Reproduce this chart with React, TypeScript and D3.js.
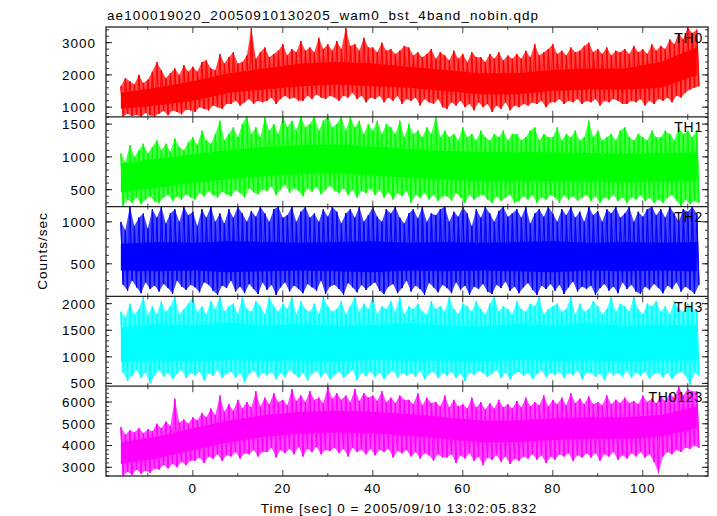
import React from 'react';
import * as d3 from 'd3';

// sample times of the spike envelopes (sec), one per second
const spikeTimes = [
  -16, -15, -14, -13, -12, -11, -10, -9,
  -8, -7, -6, -5, -4, -3, -2, -1,
  0, 1, 2, 3, 4, 5, 6, 7,
  8, 9, 10, 11, 12, 13, 14, 15,
  16, 17, 18, 19, 20, 21, 22, 23,
  24, 25, 26, 27, 28, 29, 30, 31,
  32, 33, 34, 35, 36, 37, 38, 39,
  40, 41, 42, 43, 44, 45, 46, 47,
  48, 49, 50, 51, 52, 53, 54, 55,
  56, 57, 58, 59, 60, 61, 62, 63,
  64, 65, 66, 67, 68, 69, 70, 71,
  72, 73, 74, 75, 76, 77, 78, 79,
  80, 81, 82, 83, 84, 85, 86, 87,
  88, 89, 90, 91, 92, 93, 94, 95,
  96, 97, 98, 99, 100, 101, 102, 103,
  104, 105, 106, 107, 108, 109, 110, 111,
  112,
];
// sample times of the dense core band (sec)
const coreTimes = [-16, -8, 0, 8, 16, 24, 32, 40, 48, 56, 64, 72, 80, 88, 96, 104, 112];

// TH0
const th0CoreTop = [1450, 1600, 1800, 2050, 2200, 2350, 2400, 2350, 2250, 2150, 2050, 2050, 2150, 2200, 2200, 2400, 2850];
const th0CoreBot = [950, 1050, 1200, 1450, 1550, 1650, 1700, 1650, 1600, 1500, 1400, 1400, 1500, 1550, 1550, 1600, 2000];
const th0Top = [
  1650, 1900, 1800, 1700, 2000, 1750, 1850, 2100,
  2400, 2150, 1900, 2050, 2200, 2000, 2300, 2100,
  2250, 2100, 2400, 2450, 2200, 2150, 2650, 2350,
  2550, 2700, 2350, 2400, 2600, 3450, 2500, 2700,
  2850, 2550, 2650, 2750, 2950, 2600, 2800, 2700,
  3050, 2750, 2850, 2700, 3150, 2800, 2950, 2750,
  3050, 2800, 3450, 2900, 2950, 2750, 3150, 2850,
  2850, 2700, 3000, 2750, 2800, 2650, 2750, 2900,
  2850, 2600, 2700, 2550, 2650, 2800, 2500, 2700,
  2600, 2450, 2750, 2500, 2650, 2400, 2700, 2550,
  2550, 2400, 2650, 2500, 2700, 2450, 2600, 2500,
  2650, 2500, 2750, 2550, 2950, 2600, 2700, 2800,
  2950, 2650, 2750, 2600, 2850, 2700, 2750, 2900,
  3000, 2700, 2800, 2650, 2850, 2600, 2750, 2700,
  2800, 2650, 2900, 2700, 2800, 2650, 2950, 2750,
  2900, 2800, 3100, 2950, 3300, 3100, 3480, 3300,
  3400,
];
const th0Bot = [
  700, 800, 720, 760, 700, 820, 750, 700,
  800, 880, 750, 900, 850, 780, 920, 900,
  850, 1000, 950, 900, 1050, 1000, 950, 1100,
  1100, 1200, 1050, 1150, 1250, 1100, 1200, 1150,
  1200, 1300, 1100, 1250, 1350, 1250, 1300, 1200,
  1200, 1350, 1250, 1400, 1300, 1250, 1350, 1300,
  1200, 1350, 1300, 1450, 1250, 1350, 1150, 1300,
  1250, 1350, 1150, 1300, 1200, 1350, 1100, 1250,
  1200, 1300, 1050, 1250, 1150, 1100, 1250, 1000,
  950, 1150, 1050, 1200, 1000, 1100, 900, 1150,
  1000, 1100, 850, 1050, 950, 1150, 900, 1050,
  1000, 1100, 1050, 1150, 1100, 1200, 1000, 1150,
  1150, 1250, 1100, 1200, 1150, 1250, 1100, 1200,
  1150, 1250, 1050, 1200, 1150, 1250, 1200, 1100,
  1100, 1200, 1150, 1250, 1050, 1200, 1100, 1250,
  1200, 1300, 1150, 1350, 1300, 1450, 1550, 1600,
  1650,
];

// TH1
const th1CoreTop = [900, 970, 1040, 1100, 1150, 1180, 1190, 1160, 1120, 1090, 1070, 1070, 1070, 1060, 1050, 1060, 1070];
const th1CoreBot = [460, 530, 600, 660, 710, 740, 750, 720, 680, 650, 630, 630, 630, 620, 610, 620, 630];
const th1Top = [
  1050, 920, 1180, 1000, 1100, 1200, 1050, 1150,
  1250, 1100, 1200, 1080, 1280, 1150, 1100, 1220,
  1300, 1180, 1400, 1250, 1200, 1350, 1550, 1250,
  1350, 1450, 1300, 1500, 1620, 1350, 1450, 1300,
  1600, 1400, 1500, 1350, 1620, 1450, 1550, 1400,
  1620, 1450, 1500, 1620, 1400, 1550, 1620, 1450,
  1500, 1620, 1400, 1600, 1450, 1550, 1350, 1500,
  1400, 1550, 1350, 1500, 1450, 1350, 1550, 1300,
  1500, 1350, 1400, 1300, 1450, 1350, 1620, 1300,
  1400, 1300, 1350, 1250, 1450, 1300, 1350, 1250,
  1400, 1300, 1250, 1350, 1300, 1400, 1250, 1350,
  1350, 1250, 1300, 1400, 1450, 1250, 1350, 1300,
  1300, 1450, 1250, 1350, 1300, 1400, 1250, 1300,
  1550, 1300, 1400, 1250, 1300, 1350, 1250, 1400,
  1450, 1300, 1250, 1350, 1300, 1250, 1400, 1300,
  1300, 1400, 1350, 1250, 1450, 1350, 1400, 1300,
  1400,
];
const th1Bot = [
  250, 350, 300, 380, 280, 350, 400, 320,
  300, 380, 420, 330, 400, 350, 430, 380,
  350, 450, 400, 480, 420, 380, 470, 430,
  400, 500, 450, 380, 520, 460, 430, 500,
  480, 550, 420, 500, 580, 450, 520, 480,
  400, 520, 470, 550, 430, 500, 560, 480,
  450, 520, 420, 500, 380, 480, 450, 520,
  420, 500, 380, 460, 350, 450, 400, 480,
  300, 420, 380, 450, 350, 420, 330, 400,
  400, 330, 450, 380, 300, 420, 350, 400,
  420, 350, 300, 400, 330, 380, 420, 300,
  330, 400, 350, 420, 300, 380, 350, 420,
  380, 300, 420, 350, 400, 330, 380, 420,
  330, 400, 300, 380, 350, 420, 330, 380,
  300, 380, 350, 420, 330, 380, 300, 350,
  300, 380, 420, 330, 250, 350, 280, 330,
  300,
];

// TH2
const th2CoreTop = [740, 760, 750, 770, 760, 750, 760, 770, 750, 760, 750, 760, 770, 750, 760, 750, 760];
const th2CoreBot = [420, 410, 420, 400, 410, 420, 410, 400, 420, 410, 420, 410, 400, 420, 410, 420, 410];
const th2Top = [
  1000, 900, 1180, 950, 1050, 1100, 920, 1150,
  1050, 1180, 980, 1100, 1150, 1000, 1180, 1080,
  1120, 950, 1150, 1050, 1180, 1000, 1100, 980,
  1150, 1050, 1180, 1100, 1000, 1130, 1060, 1180,
  1100, 1000, 1150, 1180, 1050, 1080, 1180, 1000,
  1120, 1180, 1050, 1100, 1000, 1150, 1060, 1180,
  1120, 980, 1100, 1150, 1050, 1180, 1000, 1080,
  1180, 1060, 1000, 1150, 1100, 1180, 1050, 980,
  1100, 1150, 1040, 1180, 1000, 1100, 1080, 1150,
  1180, 1000, 1120, 1060, 1180, 1100, 950, 1150,
  1050, 1180, 1100, 1000, 1130, 1180, 1060, 1100,
  1150, 1050, 1180, 980, 1100, 1150, 1060, 1180,
  1100, 1000, 1150, 1080, 1180, 1050, 1120, 1000,
  1180, 1080, 1130, 1000, 1150, 1100, 1180, 1050,
  1100, 1180, 1000, 1120, 1060, 1150, 1180, 1080,
  1150, 1050, 1180, 1100, 1000, 1150, 1120, 1180,
  1100,
];
const th2Bot = [
  250, 180, 300, 220, 150, 280, 200, 240,
  170, 260, 210, 140, 300, 230, 190, 250,
  220, 160, 280, 250, 180, 130, 240, 210,
  300, 170, 230, 150, 260, 200, 140, 280,
  190, 250, 130, 220, 280, 170, 240, 200,
  150, 260, 220, 180, 300, 140, 230, 250,
  200, 130, 270, 220, 160, 250, 190, 240,
  280, 180, 140, 230, 260, 150, 210, 300,
  170, 240, 200, 130, 270, 220, 160, 250,
  210, 150, 280, 190, 240, 130, 230, 200,
  260, 170, 140, 250, 210, 290, 180, 230,
  150, 220, 270, 190, 130, 240, 200, 260,
  180, 250, 140, 220, 290, 170, 230, 200,
  240, 130, 210, 260, 180, 230, 150, 280,
  200, 250, 170, 140, 230, 190, 260, 210,
  150, 240, 200, 280, 170, 230, 190, 140,
  250,
];

// TH3
const th3CoreTop = [1550, 1620, 1590, 1640, 1590, 1620, 1580, 1600, 1640, 1590, 1570, 1620, 1590, 1630, 1580, 1600, 1590];
const th3CoreBot = [900, 930, 910, 940, 920, 930, 910, 950, 920, 930, 910, 940, 920, 930, 910, 930, 920];
const th3Top = [
  1850, 1750, 2000, 1800, 1900, 2137, 1780, 1950,
  1800, 2050, 1850, 1950, 2137, 1800, 1900, 2000,
  2137, 1850, 1950, 1800, 2050, 1900, 2137, 1850,
  1950, 2000, 1800, 2137, 1900, 1850, 2050, 1950,
  1800, 2137, 1950, 1850, 2000, 1900, 2137, 1800,
  2050, 1900, 1850, 2000, 1800, 2137, 1950, 1850,
  1900, 2050, 1800, 1950, 2137, 1850, 2000, 1900,
  2137, 1800, 1950, 1900, 2050, 1850, 2137, 1800,
  1950, 1900, 2000, 1850, 1800, 2050, 1900, 1950,
  1850, 2137, 1900, 1800, 2000, 1950, 1850, 2050,
  1900, 1800, 2000, 2137, 1850, 1950, 1900, 1800,
  2050, 1900, 1850, 2000, 1950, 2137, 1800, 1900,
  1950, 2000, 1850, 1900, 2137, 1800, 2000, 1850,
  1900, 2050, 1950, 1800, 1900, 2137, 1850, 2000,
  1950, 1850, 2137, 1900, 1800, 2000, 1950, 2050,
  1850, 1950, 1800, 2050, 1900, 1850, 2000, 1900,
  1850,
];
const th3Bot = [
  700, 550, 650, 750, 600, 700, 500, 650,
  750, 620, 700, 580, 680, 750, 600, 700,
  650, 720, 560, 700, 640, 750, 600, 680,
  720, 600, 700, 520, 680, 740, 620, 700,
  650, 720, 580, 700, 620, 750, 680, 600,
  700, 550, 680, 740, 620, 700, 580, 660,
  720, 600, 680, 750, 560, 700, 640, 720,
  620, 700, 580, 680, 740, 600, 700, 650,
  700, 620, 740, 580, 680, 720, 600, 700,
  650, 720, 600, 680, 540, 700, 660, 740,
  700, 620, 680, 750, 600, 700, 580, 680,
  720, 640, 700, 580, 680, 740, 620, 700,
  660, 720, 600, 700, 650, 740, 580, 700,
  700, 620, 680, 560, 720, 650, 700, 620,
  740, 600, 700, 650, 720, 580, 680, 700,
  620, 700, 580, 680, 720, 640, 480, 700,
  650,
];

// TH0123
const th0123CoreTop = [4150, 4400, 4800, 5150, 5400, 5550, 5600, 5550, 5450, 5300, 5150, 5150, 5250, 5300, 5300, 5400, 5800];
const th0123CoreBot = [3150, 3400, 3800, 4150, 4400, 4550, 4600, 4550, 4450, 4300, 4150, 4150, 4250, 4300, 4300, 4400, 4800];
const th0123Top = [
  4850, 4500, 4700, 4600, 4800, 4550, 4750, 4650,
  5000, 4800, 5100, 4900, 6150, 5050, 5200, 5000,
  5300, 5150, 5500, 5300, 5700, 5400, 6300, 5550,
  5900, 5600, 6100, 5700, 6000, 5750, 6500, 5800,
  6200, 5900, 6400, 6000, 6100, 5850, 6600, 6050,
  6300, 6000, 6500, 6100, 6200, 5950, 6700, 6150,
  6400, 6100, 6300, 6000, 6600, 6050, 6400, 6200,
  6300, 6050, 6500, 6000, 6200, 5950, 6300, 6100,
  6100, 5900, 6400, 5850, 6200, 5950, 6000, 5800,
  6300, 5750, 6100, 5800, 5900, 5700, 6200, 5750,
  6000, 5650, 5950, 5700, 6100, 5750, 5900, 5700,
  6050, 5750, 6200, 5800, 6000, 5850, 6300, 5800,
  6100, 5900, 6200, 5850, 6400, 5950, 6150, 5900,
  6250, 5900, 6000, 5850, 6300, 5900, 6100, 5950,
  6200, 5950, 6050, 5900, 6300, 6000, 6150, 5950,
  6250, 6050, 6400, 6200, 6700, 6300, 6600, 6500,
  6500,
];
const th0123Bot = [
  2600, 2800, 2650, 2900, 2700, 2850, 2750, 2950,
  2900, 3100, 2950, 3150, 3000, 3250, 3100, 3300,
  3300, 3450, 3200, 3500, 3400, 3600, 3300, 3550,
  3500, 3700, 3400, 3650, 3600, 3800, 3500, 3700,
  3700, 3900, 3450, 3800, 3650, 3850, 3600, 3950,
  3500, 3850, 3700, 3950, 3600, 3800, 3750, 3900,
  3650, 3850, 3500, 3900, 3700, 3800, 3600, 3850,
  3550, 3800, 3700, 3850, 3450, 3750, 3650, 3800,
  3500, 3700, 3400, 3650, 3550, 3300, 3600, 3450,
  3450, 3600, 3200, 3550, 3400, 3650, 3300, 3500,
  3100, 3450, 3350, 3550, 3250, 3500, 3150, 3400,
  3300, 3500, 3400, 3600, 3350, 3550, 3200, 3500,
  3350, 3600, 3500, 3650, 3300, 3550, 3450, 3650,
  3450, 3650, 3300, 3600, 3500, 3700, 3350, 3550,
  3400, 3650, 3500, 3700, 3450, 3600, 3250, 2750,
  3500, 3700, 3600, 3800, 3700, 3900, 3850, 4000,
  3900,
];

const panelNames = ['TH0', 'TH1', 'TH2', 'TH3', 'TH0123'];
const panelColors = ['#ff0000', '#00ff00', '#0000ff', '#00ffff', '#ff00ff'];
const panelDomains = [[700, 3486], [242, 1611], [111, 1182], [447, 2137], [2600, 6728]];
const panelTickLabels = [[1000, 2000, 3000], [500, 1000, 1500], [500, 1000], [500, 1000, 1500, 2000], [3000, 4000, 5000, 6000]];
const panelMinorSteps = [200, 100, 100, 100, 200];
const xMajorTicks = [0, 20, 40, 60, 80, 100];
const xMinorTicks = [-10, 10, 30, 50, 70, 90, 110];

const coreTopSeries = [th0CoreTop, th1CoreTop, th2CoreTop, th3CoreTop, th0123CoreTop];
const coreBotSeries = [th0CoreBot, th1CoreBot, th2CoreBot, th3CoreBot, th0123CoreBot];
const topSeries = [th0Top, th1Top, th2Top, th3Top, th0123Top];
const botSeries = [th0Bot, th1Bot, th2Bot, th3Bot, th0123Bot];

const W = 717, H = 516;
const L = 106, R = 708, T = 27, B = 476;
const PH = (B - T) / 5;
const FONT = '"Liberation Sans", Arial, Helvetica, sans-serif';

export default function App() {
  const xs = d3.scaleLinear().domain([-19.3, 114.5]).range([L, R]);
  return (
    <svg width={W} height={H} style={{ position: 'fixed', left: 0, top: 0, background: '#fff' }}
      fontFamily={FONT}>
      <rect x={0} y={0} width={W} height={H} fill="#fff" />
      <defs>
        {panelNames.map((n, i) => (
          <clipPath id={`clip${i}`} key={n}>
            <rect x={L} y={T + i * PH} width={R - L} height={PH} />
          </clipPath>
        ))}
      </defs>
      {panelNames.map((name, i) => {
        const y0 = T + i * PH;
        const y1 = y0 + PH;
        const ys = d3.scaleLinear().domain(panelDomains[i]).range([y1, y0]);
        const cTop = coreTopSeries[i], cBot = coreBotSeries[i];
        const top = topSeries[i], bot = botSeries[i];
        const core = d3.area<number>()
          .x((t) => xs(t))
          .y0((_, k) => ys(cBot[k]))
          .y1((_, k) => ys(cTop[k]))(coreTimes) || '';
        const upper = spikeTimes.map((t, k) => [xs(t), ys(top[k])] as [number, number]);
        const lower = spikeTimes.map((t, k) => [xs(t + 0.5), ys(bot[k])] as [number, number]);
        const envelope = 'M' + upper.map((p) => p.join(',')).join('L') +
          'L' + lower.slice().reverse().map((p) => p.join(',')).join('L') + 'Z';
        const pts: [number, number][] = [];
        spikeTimes.forEach((t, k) => {
          pts.push([xs(t), ys(top[k])]);
          pts.push([xs(t + 0.5), ys(bot[k])]);
        });
        const zig = d3.line()(pts) || '';
        const bars = spikeTimes
          .map((t, k) => `M${xs(t).toFixed(2)},${ys(top[k]).toFixed(2)}L${xs(t + 0.5).toFixed(2)},${ys(bot[k]).toFixed(2)}`)
          .join('');
        const [dmin, dmax] = panelDomains[i];
        const minor = d3.range(Math.ceil(dmin / panelMinorSteps[i]) * panelMinorSteps[i], dmax, panelMinorSteps[i]);
        const color = panelColors[i];
        return (
          <g key={name}>
            <g clipPath={`url(#clip${i})`}>
              <path d={envelope} fill={color} fillOpacity={0.72} />
              <path d={zig} fill="none" stroke={color} strokeWidth={1} strokeOpacity={0.9} />
              <path d={bars} fill="none" stroke={color} strokeWidth={1.2} />
              <path d={core} fill={color} />
            </g>
            {minor.map((v) => (
              <g key={`m${v}`} stroke="#000" strokeWidth={0.8}>
                <line x1={L} x2={L + 3} y1={ys(v)} y2={ys(v)} />
                <line x1={R} x2={R - 3} y1={ys(v)} y2={ys(v)} />
              </g>
            ))}
            {panelTickLabels[i].map((v) => (
              <g key={`M${v}`}>
                <line x1={L} x2={L + 6} y1={ys(v)} y2={ys(v)} stroke="#000" strokeWidth={0.9} />
                <line x1={R} x2={R - 6} y1={ys(v)} y2={ys(v)} stroke="#000" strokeWidth={0.9} />
                <text x={96} y={ys(v)} dy="0.36em" textAnchor="end" fontSize={13.5} letterSpacing={1}>{v}</text>
              </g>
            ))}
            {xMajorTicks.map((t) => (
              <g key={`xM${t}`} stroke="#444" strokeWidth={1}>
                <line x1={xs(t)} x2={xs(t)} y1={y0} y2={y0 + 6} />
                <line x1={xs(t)} x2={xs(t)} y1={y1} y2={y1 - 6} />
              </g>
            ))}
            {xMinorTicks.map((t) => (
              <g key={`xm${t}`} stroke="#444" strokeWidth={1}>
                <line x1={xs(t)} x2={xs(t)} y1={y0} y2={y0 + 3} />
                <line x1={xs(t)} x2={xs(t)} y1={y1} y2={y1 - 3} />
              </g>
            ))}
            <text x={703} y={y0 + 15.5} textAnchor="end" fontSize={14} letterSpacing={0.8}>{name}</text>
          </g>
        );
      })}
      <rect x={L} y={T} width={R - L} height={B - T} fill="none" stroke="#222" strokeWidth={1.3} />
      {[1, 2, 3, 4].map((k) => (
        <line key={k} x1={L} x2={R} y1={T + k * PH} y2={T + k * PH} stroke="#222" strokeWidth={1.3} />
      ))}
      {xMajorTicks.map((t) => (
        <text key={t} x={xs(t)} y={492.5} textAnchor="middle" fontSize={13.5} letterSpacing={1}>{t}</text>
      ))}
      <text x={107} y={20} fontSize={13.5} letterSpacing={1.1}>ae100019020_20050910130205_wam0_bst_4band_nobin.qdp</text>
      <text x={399} y={512.5} textAnchor="middle" fontSize={13.5} letterSpacing={1}>Time [sec] 0 = 2005/09/10 13:02:05.832</text>
      <text transform="translate(47,251) rotate(-90)" textAnchor="middle" fontSize={13.5} letterSpacing={1}>Counts/sec</text>
    </svg>
  );
}
